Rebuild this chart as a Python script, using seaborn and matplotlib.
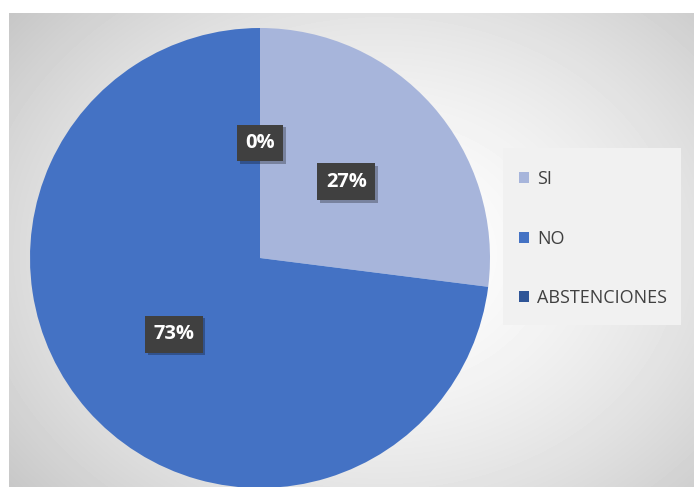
import numpy as np
import matplotlib
matplotlib.use("Agg")
import matplotlib.pyplot as plt
import matplotlib.patheffects as pe
from matplotlib.patches import Patch, Rectangle
import seaborn as sns

categories = ["SI", "NO", "ABSTENCIONES"]
votes = [27, 73, 0]
colors = ["#A7B5DB", "#4472C4", "#2F5597"]

sns.set_style("white")
plt.rcParams["font.family"] = ["Open Sans", "DejaVu Sans"]
palette = sns.color_palette(colors)

W, H = 694, 487
fig = plt.figure(figsize=(W / 100, H / 100), dpi=100)
fig.patch.set_facecolor("white")

# soft radial backdrop of the chart area
bg = fig.add_axes([9 / W, 0, 1 - 9 / W, 1 - 13 / H])
bg.set_axis_off()
yy, xx = np.mgrid[0:474, 0:685]
cx, cy = 370, 240
d = np.sqrt(((xx - cx) / 420.0) ** 2 + ((yy - cy) / 330.0) ** 2)
shade = 1.0 - 0.18 * np.clip(d, 0, 1.2) ** 1.6
bg.imshow(shade, cmap="gray", vmin=0, vmax=1, aspect="auto", interpolation="bilinear")

# pie axes: centre (260, 258) px, radius 230 px
R = 230
ax = fig.add_axes([(260 - R) / W, 1 - (258 + R) / H, 2 * R / W, 2 * R / H])
ax.set_axis_off()
wedges, texts, autotexts = ax.pie(
    votes,
    colors=palette,
    startangle=90,
    counterclock=False,
    autopct="%.0f%%",
    pctdistance=0.5,
    wedgeprops=dict(linewidth=0),
    textprops=dict(color="white", fontsize=14.5, fontweight="bold"),
)
ax.set_xlim(-1, 1)
ax.set_ylim(-1, 1)
for t in autotexts:
    t.set_bbox(dict(boxstyle="square,pad=0.42", facecolor="#404040", edgecolor="none"))
    t.get_bbox_patch().set_path_effects(
        [pe.SimplePatchShadow(offset=(2, -2), shadow_rgbFace="black", alpha=0.28), pe.Normal()]
    )

# legend panel
fig.patches.append(Rectangle((503 / W, 1 - 325 / H), 178 / W, 177 / H,
                             transform=fig.transFigure, facecolor="#F1F1F1",
                             edgecolor="none", zorder=1))

handles = [Patch(facecolor=c, edgecolor="none") for c in palette]
leg = fig.legend(
    handles,
    categories,
    loc="upper left",
    bbox_to_anchor=(519 / W, 1 - 170 / H),
    frameon=False,
    fontsize=13,
    labelcolor="#404040",
    handlelength=0.55,
    handleheight=0.55,
    handletextpad=0.45,
    labelspacing=2.3,
    borderpad=0,
    borderaxespad=0,
)
leg.set_zorder(3)

fig.savefig("out.png", dpi=100)
